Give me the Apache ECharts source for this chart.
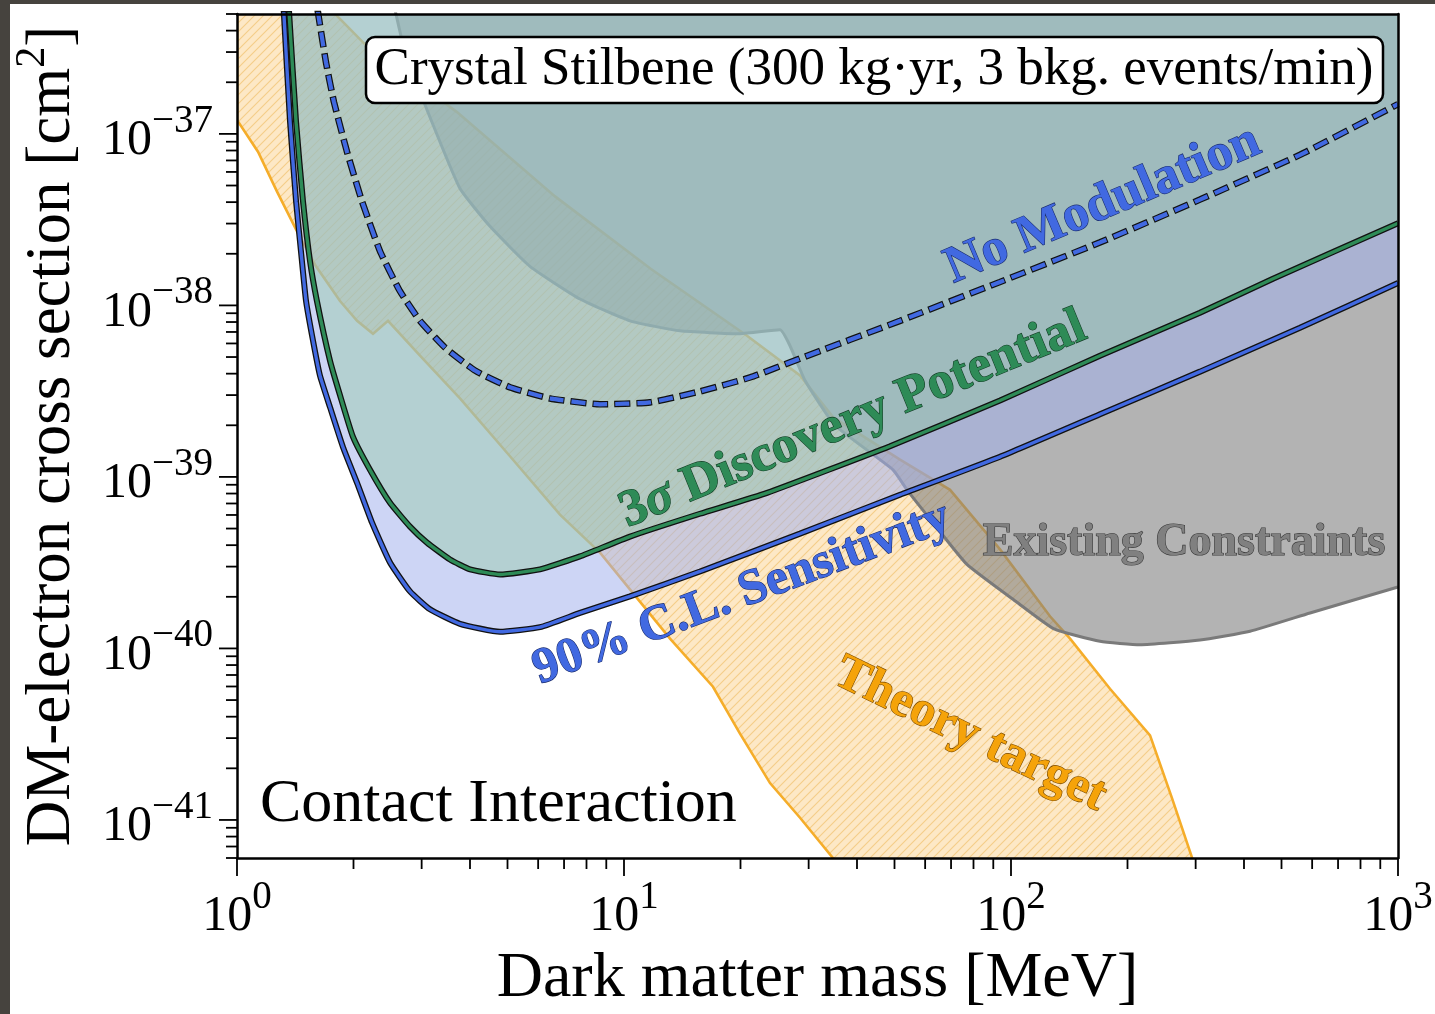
<!DOCTYPE html>
<html><head><meta charset="utf-8">
<script src="https://cdn.jsdelivr.net/npm/echarts@6/dist/echarts.min.js"></script>
<style>html,body{margin:0;padding:0;background:#46433e;}#c{width:1435px;height:1014px;}</style>
</head><body><div id="c"></div>
<script>
// ---------- axis structure ----------
const massRange = [1, 1000];            // MeV
const sigmaRange = [6e-42, 5e-37];      // cm^2
const xMajorTicks = [1, 10, 100, 1000];
const xTickExps = ['0', '1', '2', '3'];
const yMajorTicks = [1e-41, 1e-40, 1e-39, 1e-38, 1e-37];
const yTickExps = ['\u221241', '\u221240', '\u221239', '\u221238', '\u221237'];

// ---------- data (mass [MeV], cross section [cm^2]) ----------
const sensitivity90 = [[1.32,5.3e-37],[1.371,1.175e-37],[1.421,4.04e-38],[1.463,2.07e-38],[1.508,1.06e-38],[1.572,6.22e-39],[1.638,3.90e-39],[1.739,2.55e-39],[1.879,1.49e-39],[2.043,9.23e-40],[2.233,5.41e-40],[2.485,3.17e-40],[2.799,2.15e-40],[3.153,1.69e-40],[3.769,1.39e-40],[4.782,1.25e-40],[6.066,1.33e-40],[7.695,1.61e-40],[10.36,2.01e-40],[15.72,2.81e-40],[28.5,4.67e-40],[51.68,7.87e-40],[93.68,1.31e-39],[169.8,2.32e-39],[307.8,4.11e-39],[558.2,7.41e-39],[1000,1.35e-38]];
const discovery3sigma = [[1.362,5.3e-37],[1.421,1.175e-37],[1.481,4.04e-38],[1.544,1.81e-38],[1.609,1.06e-38],[1.739,4.76e-39],[1.846,2.99e-39],[1.994,1.71e-39],[2.206,1.10e-39],[2.485,7.06e-40],[2.799,5.13e-40],[3.097,4.14e-40],[3.551,3.30e-40],[4.0,2.89e-40],[4.782,2.70e-40],[6.066,2.89e-40],[7.695,3.44e-40],[10.36,4.49e-40],[15.72,6.10e-40],[23.42,8.07e-40],[48.68,1.51e-39],[93.68,2.79e-39],[169.8,5.09e-39],[307.8,9.06e-39],[475.3,1.43e-38],[1000,3.01e-38]];
const noModulation = [[1.615,5.3e-37],[1.698,2.61e-37],[1.781,1.53e-37],[1.924,7.87e-38],[2.104,4.04e-38],[2.342,2.07e-38],[2.637,1.21e-38],[2.971,8.13e-39],[3.448,5.67e-39],[4.121,4.17e-39],[5.075,3.33e-39],[6.438,2.87e-39],[8.67,2.65e-39],[11.67,2.72e-39],[15.72,3.15e-39],[21.17,3.80e-39],[28.5,4.90e-39],[51.68,8.13e-39],[93.68,1.37e-38],[169.8,2.33e-38],[307.8,4.14e-38],[558.2,7.55e-38],[1000,1.49e-37]];
const existingConstraints = [[2.56,5.3e-37],[2.718,2.99e-37],[2.971,1.75e-37],[3.21,1.13e-37],[3.769,4.80e-38],[4.505,2.89e-38],[5.715,1.69e-38],[7.695,1.09e-38],[10.36,8.13e-39],[13.96,7.11e-39],[19.94,6.84e-39],[25.3,7.21e-39],[26.85,5.82e-39],[29.36,3.65e-39],[35.09,2.00e-39],[49.56,1.10e-39],[53.87,8.41e-40],[62.86,5.41e-40],[76.95,3.09e-40],[103.6,1.86e-40],[129.2,1.30e-40],[169.8,1.10e-40],[215.4,1.05e-40],[307.8,1.12e-40],[414.7,1.26e-40],[592.5,1.61e-40],[1000,2.28e-40]];
const theoryTargetLower = [[1,1.205e-37],[1.133,7.87e-38],[1.269,4.61e-38],[1.438,2.63e-38],[1.6,1.69e-38],[1.846,1.06e-38],[2.043,8.13e-39],[2.246,6.84e-39],[2.456,8.13e-39],[2.971,5.09e-39],[3.769,2.87e-39],[5.075,1.32e-39],[6.833,6.03e-40],[8.67,3.62e-40],[10.36,2.21e-40],[13.15,1.14e-40],[16.98,5.98e-41],[19.94,3.19e-41],[23.84,1.64e-41],[28.5,1.03e-41],[35.09,5.8e-42]];
const theoryTargetUpper = [[295.3,5.8e-42],[260.6,1.34e-41],[228.7,3.11e-41],[180.2,5.82e-41],[142.1,1.14e-40],[126.1,1.54e-40],[93.68,3.78e-40],[69.58,8.41e-40],[51.68,1.26e-39],[34.68,2.23e-39],[28.5,3.90e-39],[20.79,6.65e-39],[11.74,1.63e-38],[6.634,4.32e-38],[3.702,1.34e-37],[2.129,3.37e-37],[1.72,5.5e-37],[1,5.5e-37]];
const theoryTarget = theoryTargetLower.concat(theoryTargetUpper);

// ---------- helpers ----------
const SERIF = '"Liberation Serif", "DejaVu Serif", serif';
function minorTicks(lo, hi) {
  const out = [];
  for (let k = Math.floor(Math.log10(lo)) - 1; k <= Math.ceil(Math.log10(hi)); k++) {
    for (let d = 2; d <= 9; d++) {
      const v = d * Math.pow(10, k);
      if (v >= lo * 0.99999 && v <= hi * 1.00001) out.push(v);
    }
  }
  return out;
}
const xTickData = xMajorTicks.map(v => [v, sigmaRange[0], 1]).concat(minorTicks(massRange[0], massRange[1]).map(v => [v, sigmaRange[0], 0]));
const yTickData = yMajorTicks.map(v => [massRange[0], v, 1]).concat(minorTicks(sigmaRange[0], sigmaRange[1]).map(v => [massRange[0], v, 0]));

function expLabel(ticks, exps) {
  return function (v) {
    const e = Math.log10(v), r = Math.round(e);
    if (Math.abs(e - r) > 1e-6) return '';
    const i = ticks.findIndex(t => Math.round(Math.log10(t)) === r);
    return i < 0 ? '' : '{b|10}{s|' + exps[i] + '}';
  };
}
const labelRich = {
  b: { fontFamily: SERIF, fontSize: 50, lineHeight: 64, verticalAlign: 'bottom', color: '#000' },
  s: { fontFamily: SERIF, fontSize: 39, lineHeight: 38, verticalAlign: 'top', color: '#000' }
};

// hatch pattern for theory target
const hatch = document.createElement('canvas');
hatch.width = 9; hatch.height = 9;
(function () {
  const g = hatch.getContext('2d');
  g.fillStyle = '#fde8c6'; g.fillRect(0, 0, 9, 9);
  g.strokeStyle = '#f5cd88'; g.lineWidth = 1.1;
  g.beginPath();
  g.moveTo(0, 9); g.lineTo(9, 0);
  g.moveTo(-4.5, 4.5); g.lineTo(4.5, -4.5);
  g.moveTo(4.5, 13.5); g.lineTo(13.5, 4.5);
  g.stroke();
})();

function tickRenderer(dir) {
  return function (params, api) {
    const p = api.coord([api.value(0), api.value(1)]);
    const len = api.value(2) ? 18 : 11;
    const shape = dir === 'x'
      ? { x1: p[0], y1: p[1], x2: p[0], y2: p[1] + len }
      : { x1: p[0] - len, y1: p[1], x2: p[0], y2: p[1] };
    return { type: 'line', shape: shape, style: { stroke: '#000', lineWidth: 1.8 } };
  };
}
function plainLine(data, color, width, z, type, offset) {
  return { type: 'line', data: data, showSymbol: false, smooth: 0.15, z: z, silent: true,
    lineStyle: { color: color, width: width, type: type || 'solid', dashOffset: offset || 0, cap: 'butt' } };
}
// region above a curve, up beyond the top of the plot (clipped)
function areaAbove(data, fill, z) {
  return { type: 'custom', data: data, z: z, clip: true, silent: true,
    renderItem: function (params, api) {
      if (params.dataIndex !== 0) return null;
      const pts = data.map(d => api.coord(d));
      const top = sigmaRange[1] * 3;
      pts.push(api.coord([data[data.length - 1][0], top]));
      pts.push(api.coord([data[0][0], top]));
      return { type: 'polygon', shape: { points: pts }, style: { fill: fill } };
    } };
}

const axisLineStyle = { show: true, onZero: false, lineStyle: { color: '#000', width: 2.5 } };
const chart = echarts.init(document.getElementById('c'), null, { renderer: 'canvas' });
chart.setOption({
  backgroundColor: '#46433e',
  animation: false,
  grid: { left: 237, top: 14, width: 1161, height: 844, containLabel: false, outerBoundsMode: 'none' },
  xAxis: [{
    type: 'log', logBase: 10, min: massRange[0], max: massRange[1], position: 'bottom', z: 20,
    axisLine: axisLineStyle, axisTick: { show: false }, minorTick: { show: false }, splitLine: { show: false },
    axisLabel: { show: true, margin: 20, formatter: expLabel(xMajorTicks, xTickExps), rich: labelRich, showMinLabel: true, showMaxLabel: true },
    name: 'Dark matter mass [MeV]', nameLocation: 'middle', nameGap: 75,
    nameTextStyle: { fontFamily: SERIF, fontSize: 64, color: '#000' }
  }, {
    type: 'log', logBase: 10, min: massRange[0], max: massRange[1], position: 'top', z: 20,
    axisLine: axisLineStyle, axisTick: { show: false }, axisLabel: { show: false }, splitLine: { show: false }
  }],
  yAxis: [{
    type: 'log', logBase: 10, min: sigmaRange[0], max: sigmaRange[1], position: 'left', z: 20,
    axisLine: axisLineStyle, axisTick: { show: false }, minorTick: { show: false }, splitLine: { show: false },
    axisLabel: { show: true, margin: 24, formatter: expLabel(yMajorTicks, yTickExps), rich: labelRich }
  }, {
    type: 'log', logBase: 10, min: sigmaRange[0], max: sigmaRange[1], position: 'right', z: 20,
    axisLine: axisLineStyle, axisTick: { show: false }, axisLabel: { show: false }, splitLine: { show: false }
  }],
  series: [
    { type: 'custom', name: 'Theory target', data: theoryTarget, z: 1, clip: true, silent: true,
      renderItem: function (params, api) {
        if (params.dataIndex !== 0) return null;
        const pts = theoryTarget.map(d => api.coord(d));
        return { type: 'polygon', shape: { points: pts },
          style: { fill: { image: hatch, repeat: 'repeat' }, stroke: '#f5ad2a', lineWidth: 2.6 } };
      } },
    areaAbove(existingConstraints, 'rgba(128,128,128,0.6)', 2),
    plainLine(existingConstraints, '#7a7a7a', 3, 2),
    areaAbove(sensitivity90, 'rgba(162,177,236,0.54)', 3),
    areaAbove(discovery3sigma, 'rgba(142,200,157,0.4)', 4),
    plainLine(sensitivity90, '#111', 6, 5),
    plainLine(sensitivity90, '#4169e1', 3.4, 6),
    plainLine(discovery3sigma, '#111', 6, 5),
    plainLine(discovery3sigma, '#2e8b57', 3.4, 6),
    plainLine(noModulation, '#111', 6.6, 5, [16, 6], 0),
    plainLine(noModulation, '#4169e1', 4.2, 6, [14, 8], -1),
    { type: 'custom', data: xTickData, z: 20, clip: false, silent: true, renderItem: tickRenderer('x') },
    { type: 'custom', data: yTickData, z: 20, clip: false, silent: true, renderItem: tickRenderer('y') }
  ],
  graphic: [
    { type: 'rect', z: -100, silent: true, shape: { x: 10, y: 4, width: 1425, height: 1010 }, style: { fill: '#ffffff' } },
    { type: 'text', z: 50, x: 48, y: 436, rotation: Math.PI / 2, style: { text: '{b|DM-electron cross section [cm}{s|2}{b|]}', align: 'center', verticalAlign: 'middle',
      rich: { b: { fontFamily: SERIF, fontSize: 63, lineHeight: 72, verticalAlign: 'bottom', fill: '#000' },
              s: { fontFamily: SERIF, fontSize: 42, lineHeight: 40, verticalAlign: 'top', fill: '#000' } } } },
    { type: 'rect', z: 100, shape: { x: 366, y: 37, width: 1017, height: 66, r: 9 }, style: { fill: '#fff', stroke: '#000', lineWidth: 2.5 } },
    { type: 'text', z: 101, x: 874, y: 70, style: { text: 'Crystal Stilbene (300 kg\u00b7yr, 3 bkg. events/min)', fontFamily: SERIF, fontSize: 53, fill: '#000', align: 'center', verticalAlign: 'middle' } },
    { type: 'text', z: 101, x: 260, y: 805, style: { text: 'Contact Interaction', fontFamily: SERIF, fontSize: 62, fill: '#000', align: 'left', verticalAlign: 'middle' } },
    { type: 'text', z: 101, x: 1103, y: 205, rotation: 0.40, style: { text: 'No Modulation', fontFamily: SERIF, fontWeight: 'bold', fontSize: 52, fill: '#4169e1', stroke: '#1b2d6e', lineWidth: 1.2, align: 'center', verticalAlign: 'middle' } },
    { type: 'text', z: 101, x: 853, y: 420, rotation: 0.39, style: { text: '3{i|\u03c3} Discovery Potential', fontFamily: SERIF, fontWeight: 'bold', fontSize: 52, fill: '#2e8b57', stroke: '#123d24', lineWidth: 1.2, align: 'center', verticalAlign: 'middle',
      rich: { i: { fontFamily: SERIF, fontStyle: 'italic', fontWeight: 'bold', fontSize: 52, fill: '#2e8b57', stroke: '#123d24', lineWidth: 1.2 } } } },
    { type: 'text', z: 101, x: 742, y: 594, rotation: 0.36, style: { text: '90% C.L. Sensitivity', fontFamily: SERIF, fontWeight: 'bold', fontSize: 50, fill: '#4169e1', stroke: '#1b2d6e', lineWidth: 1.2, align: 'center', verticalAlign: 'middle' } },
    { type: 'text', z: 101, x: 1184, y: 543, style: { text: 'Existing Constraints', fontFamily: SERIF, fontWeight: 'bold', fontSize: 46, fill: '#808080', stroke: '#3a3a3a', lineWidth: 1.2, align: 'center', verticalAlign: 'middle' } },
    { type: 'text', z: 101, x: 970, y: 735, rotation: -0.45, style: { text: 'Theory target', fontFamily: SERIF, fontWeight: 'bold', fontSize: 50, fill: '#f5a30a', stroke: '#7a4a00', lineWidth: 1.2, align: 'center', verticalAlign: 'middle' } }
  ]
});
</script></body></html>
